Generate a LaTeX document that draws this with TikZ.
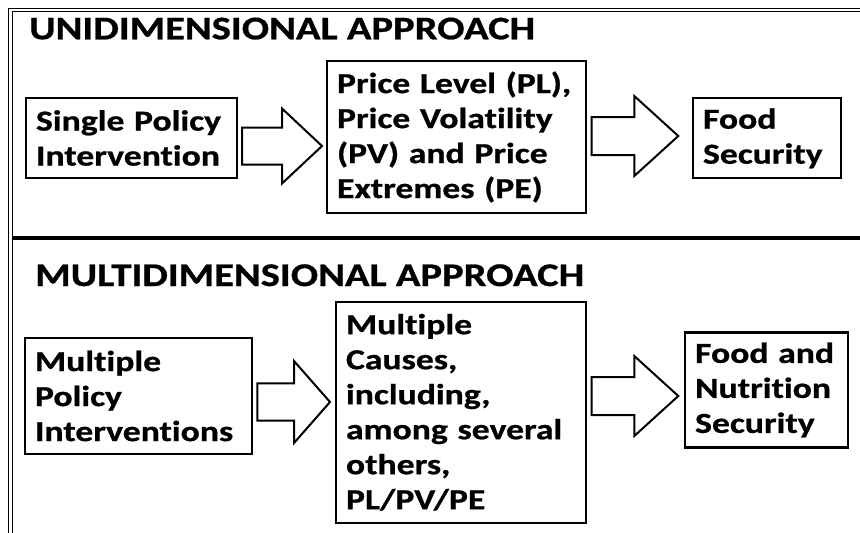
\documentclass[tikz,border=0pt]{standalone}
\usepackage{fontspec}
\setmainfont{Carlito}[FakeStretch=1.23,Ligatures=CommonOff,BoldFeatures={FakeBold=0.8}]
\begin{document}
\begin{tikzpicture}[x=1pt,y=-1pt,
  box/.style={draw,line width=2.2pt,inner xsep=10pt,inner ysep=0pt,align=left,
    font=\fontsize{29}{35}\selectfont\bfseries},
  titletext/.style={anchor=base west,inner sep=0pt,font=\fontsize{33}{38}\selectfont\bfseries},
  barrow/.style={draw,line width=2pt,line join=miter,fill=white},
  frameline/.style={line width=1.1pt},
  sepline/.style={line width=3.8pt}]
\useasboundingbox (0,0) rectangle (860,533);
\newcommand\blockarr[6]{%
  \draw[barrow] (#1,#3-#5) -- (#2-#4,#3-#5) -- (#2-#4,#3-#6) -- (#2,#3)
    -- (#2-#4,#3+#6) -- (#2-#4,#3+#5) -- (#1,#3+#5) -- cycle;}
% frame
\draw[frameline] (8.6,533) -- (8.6,8.8) -- (860,8.8);
\draw[frameline] (12.3,533) -- (12.3,11.8) -- (860,11.8);
\draw[sepline] (12.3,237.7) -- (860,237.7);
% titles
\node[titletext] (t1) at (29,39.3) {UNIDIMENSIONAL APPROACH};
\node[titletext] (t2) at (35,286) {MULTIDIMENSIONAL APPROACH};
% upper row
\node[box,minimum width=211pt,minimum height=80pt,text width=191pt] (b1) at (131.5,138) {Single Policy\\Intervention};
\node[box,minimum width=259pt,minimum height=152pt,text width=239pt] (b2) at (456.5,137) {Price Level (PL),\\Price Volatility\\(PV) and Price\\Extremes (PE)};
\node[box,minimum width=148pt,minimum height=80pt,text width=128pt] (b3) at (767,138.3) {Food\\Security};
% lower row
\node[box,minimum width=227pt,minimum height=116pt,text width=207pt] (b4) at (138.5,396) {Multiple\\Policy\\Interventions};
\node[box,minimum width=250pt,minimum height=221pt,text width=230pt] (b5) at (461,412.2) {Multiple\\Causes,\\including,\\among several\\others,\\PL/PV/PE};
\node[box,minimum width=163pt,minimum height=115pt,text width=143pt] (b6) at (766.6,390) {Food and\\Nutrition\\Security};
% block arrows
\blockarr{242}{322}{146}{40}{18.5}{37.5}
\blockarr{591.7}{678.3}{136}{44}{19}{40}
\blockarr{257.3}{330}{402}{36}{18.7}{41}
\blockarr{591.7}{678.3}{396}{44}{19}{40}
\end{tikzpicture}
\end{document}
